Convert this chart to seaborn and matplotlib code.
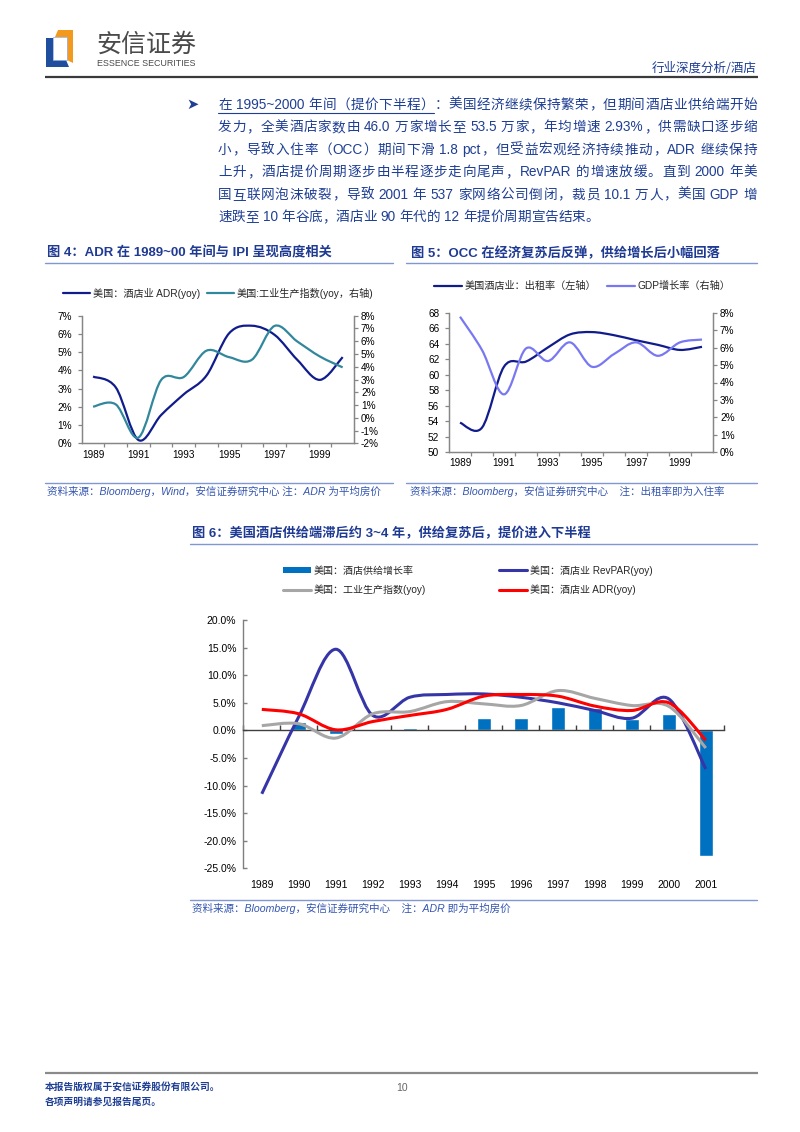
import numpy as np
import pandas as pd
import matplotlib
matplotlib.use("Agg")
import matplotlib.pyplot as plt
import seaborn as sns
from matplotlib.path import Path
from matplotlib.patches import PathPatch, Rectangle, Polygon
from matplotlib.lines import Line2D

# ---------------- data ----------------
years4 = [str(y) for y in range(1989, 2001)]
adr4 = [3.66, 3.07, 0.18, 1.55, 2.69, 3.72, 6.04, 6.45, 5.95, 4.58, 3.48, 4.73]
ipi4 = [0.87, 1.05, -1.55, 2.96, 3.20, 5.26, 4.75, 4.55, 7.20, 5.98, 4.80, 3.95]

years5 = [str(y) for y in range(1989, 2001)]
occ5 = [53.82, 53.18, 61.04, 61.70, 63.53, 65.20, 65.50, 65.10, 64.45, 63.85, 63.20, 63.60]
gdp5 = [7.77, 5.86, 3.32, 5.95, 5.23, 6.30, 4.90, 5.63, 6.30, 5.53, 6.30, 6.46]

years6 = [str(y) for y in range(1989, 2002)]
supply6 = [0.0, 1.55, -0.70, 0.15, 0.35, 0.0, 2.20, 2.20, 4.20, 4.05, 2.10, 2.90, -22.70]
revpar6 = [-11.5, 2.5, 14.7, 2.7, 6.0, 6.5, 6.6, 6.0, 5.0, 3.6, 2.2, 5.7, -7.0]
ipi6 = [0.85, 1.2, -1.4, 3.0, 3.4, 5.2, 4.8, 4.5, 7.2, 5.8, 4.5, 4.35, -3.2]
adr6 = [3.8, 3.0, 0.1, 1.6, 2.7, 3.8, 6.2, 6.5, 6.2, 4.4, 3.6, 5.0, -1.8]

body_lines = [
    "在 1995~2000 年间（提价下半程）：美国经济继续保持繁荣，但期间酒店业供给端开始",
    "发力，全美酒店家数由 46.0 万家增长至 53.5 万家，年均增速 2.93%，供需缺口逐步缩",
    "小，导致入住率（OCC）期间下滑 1.8 pct，但受益宏观经济持续推动，ADR 继续保持",
    "上升，酒店提价周期逐步由半程逐步走向尾声，RevPAR 的增速放缓。直到 2000 年美",
    "国互联网泡沫破裂，导致 2001 年 537 家网络公司倒闭，裁员 10.1 万人，美国 GDP 增",
    "速跌至 10 年谷底，酒店业 90 年代的 12 年提价周期宣告结束。",
]
underline_part = "在 1995~2000 年间（提价下半程）"

# ---------------- style ----------------
sns.set_theme(style="ticks")
plt.rcParams["font.family"] = ["Liberation Sans", "Noto Sans CJK SC", "DejaVu Sans"]
plt.rcParams["axes.unicode_minus"] = False

C_TXT = "#1F3F94"
C_TITLE = "#1F3A93"
C_SRC = "#3556B0"
C_RULE = "#8197D2"
SPINE = "#868686"
C_NAVY = "#101C8C"
C_TEAL = "#31879B"
C_GDP = "#7878F2"
C_BAR = "#0070C0"
C_REV = "#3535A8"
C_GRAY = "#A6A6A6"
C_RED = "#FF0000"

W, H = 800, 1132
fig = plt.figure(figsize=(W / 100, H / 100), dpi=100)
bg = fig.add_axes([0, 0, 1, 1], zorder=0)
bg.set_xlim(0, W)
bg.set_ylim(H, 0)
bg.axis("off")


def fpos(l, t, r, b):
    return [l / W, 1 - b / H, (r - l) / W, (b - t) / H]


def smooth_path(xs, ys):
    xs = np.asarray(xs, float)
    ys = np.asarray(ys, float)
    n = len(xs)
    verts = [(xs[0], ys[0])]
    codes = [Path.MOVETO]
    for i in range(n - 1):
        i0 = max(i - 1, 0)
        i3 = min(i + 2, n - 1)
        c1 = (xs[i] + (xs[i + 1] - xs[i0]) / 6, ys[i] + (ys[i + 1] - ys[i0]) / 6)
        c2 = (xs[i + 1] - (xs[i3] - xs[i]) / 6, ys[i + 1] - (ys[i3] - ys[i]) / 6)
        verts += [c1, c2, (xs[i + 1], ys[i + 1])]
        codes += [Path.CURVE4] * 3
    return Path(verts, codes)


def add_curve(ax, xs, ys, color, lw, z=3):
    ax.add_patch(PathPatch(smooth_path(xs, ys), fill=False, edgecolor=color,
                           lw=lw, zorder=z, capstyle="butt", joinstyle="round"))


# ---------------- header ----------------
bg.add_patch(Polygon([(46, 38), (53, 38), (53, 60), (66, 60), (69, 67), (46, 67)],
                     closed=True, fc="#1F4E9E", ec="none"))
bg.add_patch(Polygon([(58, 30), (73, 30), (73, 63), (67, 60), (67, 37), (55, 37)],
                     closed=True, fc="#F39A1E", ec="none"))
bg.add_patch(Rectangle((53, 37), 14, 23, fc="none", ec="#9DB5E0", lw=0.6))
bg.text(96, 45, "安信证券", fontsize=18, color="#4A4A4A", va="center", ha="left",
        family=["Noto Sans CJK SC"])
bg.text(97, 64, "ESSENCE SECURITIES", fontsize=6.4, color="#4A4A4A", va="center",
        ha="left", family=["Liberation Sans"])
bg.text(757, 68, "行业深度分析/酒店", fontsize=9, color=C_TXT, va="center", ha="right",
        family=["Noto Sans CJK SC"])
bg.plot([45, 758], [76.5, 76.5], color="#3A3A3A", lw=1.6, solid_capstyle="butt")

# ---------------- body text (justified) ----------------
renderer = fig.canvas.get_renderer()


def tokenize(s):
    toks = []
    state = {"buf": "", "sp": False}

    def flush():
        if state["buf"]:
            toks.append((state["buf"], state["sp"]))
            state["buf"] = ""
            state["sp"] = False

    for ch in s:
        if ch == " ":
            flush()
            state["sp"] = True
        elif ord(ch) < 128:
            state["buf"] += ch
        else:
            flush()
            toks.append((ch, state["sp"]))
            state["sp"] = False
    flush()
    return toks


BODY_FS = 9.8
em = BODY_FS * 100 / 72.0


def draw_line(text, x0, x1, yb, justify=True):
    toks = tokenize(text)
    objs = []
    widths = []
    for t, sp in toks:
        cjk = ord(t[0]) >= 128
        o = bg.text(0, yb, t, fontsize=BODY_FS, color=C_TXT, va="baseline",
                    ha="center" if cjk else "left",
                    family=["Noto Sans CJK SC"] if cjk else ["Liberation Sans"])
        objs.append((o, cjk))
        if cjk:
            widths.append(em)
        else:
            widths.append(o.get_window_extent(renderer).width)
    spw = 0.28 * em
    nsp = sum(1 for _, sp in toks if sp)
    natural = sum(widths) + nsp * spw
    extra = (x1 - x0 - natural) / (len(toks) - 1) if justify else 0.0
    x = x0
    ends = []
    for (o, cjk), w, (t, sp) in zip(objs, widths, toks):
        if sp:
            x += spw
        o.set_x(x + w / 2 if cjk else x)
        x += w
        ends.append(x)
        x += extra
    return ends


bg.text(192.5, 104, "\u27a4", fontsize=10.5, color=C_TXT,
        va="center", ha="center", family=["DejaVu Sans"])
line_y = [104, 126.5, 149, 171.5, 194, 216.5]
n_ul = len(tokenize(underline_part))
for i, (ln, yc) in enumerate(zip(body_lines, line_y)):
    ends = draw_line(ln, 218, 757, yc + 4.6, justify=(i < len(body_lines) - 1))
    if i == 0:
        bg.plot([218, ends[n_ul - 1]], [yc + 8.5, yc + 8.5], color=C_TXT, lw=0.8)

# ---------------- chart titles / rules / sources ----------------
TFS = 9.5
bg.text(47, 253, "图 4：ADR 在 1989~00 年间与 IPI 呈现高度相关", fontsize=TFS,
        fontweight="bold", color=C_TITLE, va="center", ha="left")
bg.plot([45, 393], [263, 263], color=C_RULE, lw=1.0)
bg.text(411, 253, "图 5：OCC 在经济复苏后反弹，供给增长后小幅回落", fontsize=TFS,
        fontweight="bold", color=C_TITLE, va="center", ha="left")
bg.plot([406, 757], [263, 263], color=C_RULE, lw=1.0)
bg.plot([45, 393], [482.5, 482.5], color=C_RULE, lw=1.0)
bg.plot([406, 757], [482.5, 482.5], color=C_RULE, lw=1.0)
bg.text(47, 491, "资料来源：Bloomberg，Wind，安信证券研究中心 注：ADR 为平均房价",
        fontsize=7.6, style="italic", color=C_SRC, va="center", ha="left")
bg.text(410, 491, "资料来源：Bloomberg，安信证券研究中心    注：出租率即为入住率",
        fontsize=7.6, style="italic", color=C_SRC, va="center", ha="left")

bg.text(192, 534, "图 6：美国酒店供给端滞后约 3~4 年，供给复苏后，提价进入下半程",
        fontsize=TFS, fontweight="bold", color=C_TITLE, va="center", ha="left")
bg.plot([190, 757], [544, 544], color=C_RULE, lw=1.0)
bg.plot([190, 757], [899.5, 899.5], color=C_RULE, lw=1.0)
bg.text(192, 908, "资料来源：Bloomberg，安信证券研究中心    注：ADR 即为平均房价",
        fontsize=7.6, style="italic", color=C_SRC, va="center", ha="left")

# ---------------- footer ----------------
bg.plot([45, 758], [1073, 1073], color="#8A8A8A", lw=1.6, solid_capstyle="butt")
bg.text(45, 1087, "本报告版权属于安信证券股份有限公司。", fontsize=7, fontweight="bold",
        color=C_TXT, va="center", ha="left", family=["Noto Sans CJK SC"])
bg.text(45, 1102, "各项声明请参见报告尾页。", fontsize=7, fontweight="bold",
        color=C_TXT, va="center", ha="left", family=["Noto Sans CJK SC"])
bg.text(402, 1088, "10", fontsize=7.5, color="#666666", va="center", ha="center")

TK = 7.2


def style_dual(ax, axr):
    for a in (ax, axr):
        a.set_facecolor("none")
        a.spines["top"].set_visible(False)
        for s in ("left", "right", "bottom"):
            a.spines[s].set_color(SPINE)
            a.spines[s].set_linewidth(0.9)
    ax.tick_params(axis="x", which="major", length=0, pad=5, labelsize=TK,
                   labelcolor="black")
    ax.tick_params(axis="x", which="minor", length=3, direction="out", color=SPINE,
                   width=0.9, bottom=True)
    ax.tick_params(axis="y", length=3, direction="out", pad=4, labelsize=TK,
                   color=SPINE, width=0.9, labelcolor="black", left=True)
    axr.tick_params(axis="y", length=3, direction="out", pad=2, labelsize=TK,
                    color=SPINE, width=0.9, labelcolor="black", right=True)


# ---------------- chart 4 ----------------
ax4 = fig.add_axes(fpos(81.7, 315.7, 354, 443.3), zorder=2)
x4 = np.arange(len(years4))
ax4r = ax4.twinx()
ax4.set_xlim(-0.5, len(years4) - 0.5)
ax4.set_ylim(0, 7)
ax4r.set_ylim(-2, 8)
add_curve(ax4, x4, adr4, C_NAVY, 1.6)
add_curve(ax4r, x4, ipi4, C_TEAL, 1.6)
ax4.set_yticks(range(0, 8))
ax4.set_yticklabels([f"{v}%" for v in range(0, 8)])
ax4r.set_yticks(range(-2, 9))
ax4r.set_yticklabels([f"{v}%" for v in range(-2, 9)])
ax4.set_xticks(x4[::2])
ax4.set_xticklabels(years4[::2])
ax4.set_xticks(np.arange(0.5, len(years4) - 0.5, 1), minor=True)
style_dual(ax4, ax4r)
h4 = [Line2D([], [], color=C_NAVY, lw=1.6), Line2D([], [], color=C_TEAL, lw=1.6)]
ax4.legend(h4, ["美国：酒店业 ADR(yoy)", "美国:工业生产指数(yoy，右轴)"], ncol=2,
           frameon=False, fontsize=7.3, loc="center left", bbox_to_anchor=(63, 293),
           bbox_transform=bg.transData, borderpad=0, borderaxespad=0,
           handlelength=2.65, handletextpad=0.3, columnspacing=0.7)

# ---------------- chart 5 ----------------
ax5 = fig.add_axes(fpos(449, 312.7, 713, 452.3), zorder=2)
x5 = np.arange(len(years5))
ax5r = ax5.twinx()
ax5.set_xlim(-0.5, len(years5) - 0.5)
ax5.set_ylim(50, 68)
ax5r.set_ylim(0, 8)
add_curve(ax5, x5, occ5, C_NAVY, 1.6)
add_curve(ax5r, x5, gdp5, C_GDP, 1.6)
ax5.set_yticks(range(50, 69, 2))
ax5.set_yticklabels([str(v) for v in range(50, 69, 2)])
ax5r.set_yticks(range(0, 9))
ax5r.set_yticklabels([f"{v}%" for v in range(0, 9)])
ax5.set_xticks(x5[::2])
ax5.set_xticklabels(years5[::2])
ax5.set_xticks(np.arange(0.5, len(years5) - 0.5, 1), minor=True)
style_dual(ax5, ax5r)
ax5.tick_params(axis="x", which="major", pad=4)
h5 = [Line2D([], [], color=C_NAVY, lw=1.6), Line2D([], [], color=C_GDP, lw=1.6)]
ax5.legend(h5, ["美国酒店业：出租率（左轴）", "GDP增长率（右轴）"], ncol=2,
           frameon=False, fontsize=7.3, loc="center left", bbox_to_anchor=(434, 286),
           bbox_transform=bg.transData, borderpad=0, borderaxespad=0,
           handlelength=2.75, handletextpad=0.3, columnspacing=1.0)

# ---------------- chart 6 ----------------
ax6 = fig.add_axes(fpos(243.3, 620, 724.3, 868.3), zorder=2)
ax6.set_facecolor("none")
df6 = pd.DataFrame({"year": years6, "supply": supply6})
sns.barplot(data=df6, x="year", y="supply", ax=ax6, color=C_BAR, width=0.39,
            saturation=1, errorbar=None, zorder=1)
x6 = np.arange(len(years6))
add_curve(ax6, x6, revpar6, C_REV, 2.2, z=3)
add_curve(ax6, x6, ipi6, C_GRAY, 2.2, z=4)
add_curve(ax6, x6, adr6, C_RED, 2.2, z=5)
ax6.set_xlim(-0.5, len(years6) - 0.5)
ax6.set_ylim(-25, 20)
ax6.set_xlabel("")
ax6.set_ylabel("")
ax6.set_yticks(range(-25, 21, 5))
ax6.set_yticklabels([f"{v:.1f}%" for v in range(-25, 21, 5)])
for s in ("top", "right"):
    ax6.spines[s].set_visible(False)
ax6.spines["left"].set_color("#7F7F7F")
ax6.spines["left"].set_linewidth(1.0)
ax6.spines["bottom"].set_position(("data", 0))
ax6.spines["bottom"].set_color("#3F3F3F")
ax6.spines["bottom"].set_linewidth(1.0)
ax6.set_xticks(np.arange(-0.5, len(years6), 1))
ax6.tick_params(axis="x", direction="in", length=3.5, color="#3F3F3F", width=1.0,
                labelbottom=False, bottom=True)
ax6.tick_params(axis="y", direction="in", length=3, color="#7F7F7F", width=1.0,
                pad=5, labelsize=7.5, labelcolor="black", left=True)
sec = ax6.secondary_xaxis("bottom")
sec.set_xticks(x6)
sec.set_xticklabels(years6)
sec.tick_params(length=0, pad=8.5, labelsize=7.5, labelcolor="black")
sec.spines["bottom"].set_visible(False)
h6 = [Rectangle((0, 0), 1, 1, fc=C_BAR, ec="none"),
      Line2D([], [], color=C_GRAY, lw=2.2),
      Line2D([], [], color=C_REV, lw=2.2),
      Line2D([], [], color=C_RED, lw=2.2)]
l6 = ["美国：酒店供给增长率", "美国：工业生产指数(yoy)",
      "美国：酒店业 RevPAR(yoy)", "美国：酒店业 ADR(yoy)"]
ax6.legend(h6, l6, ncol=2, frameon=False, fontsize=7.2, loc="center left",
           bbox_to_anchor=(283, 580), bbox_transform=bg.transData, borderpad=0,
           borderaxespad=0, handlelength=2.8, handleheight=0.55, handletextpad=0.3,
           columnspacing=7.3, labelspacing=0.9)

fig.savefig("out.png", dpi=100)
